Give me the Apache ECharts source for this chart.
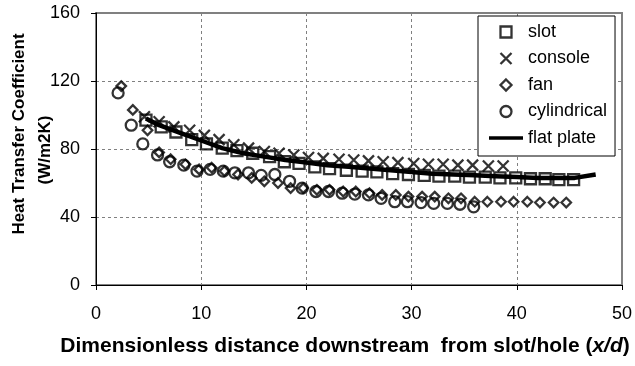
<!DOCTYPE html>
<html>
<head>
<meta charset="utf-8">
<script src="https://cdn.jsdelivr.net/npm/echarts@6/dist/echarts.min.js"></script>
<style>
  html, body { margin: 0; padding: 0; background: #fff; }
  #chart { width: 635px; height: 366px; }
</style>
</head>
<body>
<div id="chart"></div>
<script>
// Heat transfer coefficient vs. dimensionless downstream distance x/d
const xTicks = [0, 10, 20, 30, 40, 50];
const yTicks = [0, 40, 80, 120, 160];

const slotX = [4.75, 6.2, 7.6, 9.1, 10.5, 12.0, 13.4, 14.9, 16.5, 17.9, 19.3, 20.8, 22.2, 23.8, 25.3, 26.7, 28.2, 29.7, 31.2, 32.6, 34.1, 35.5, 37.0, 38.4, 39.9, 41.3, 42.7, 44.0, 45.4];
const slotY = [97, 93, 90, 85.5, 83, 80.5, 79, 77.5, 75.5, 72.5, 71.5, 69.5, 68.5, 67.5, 67, 66.5, 65.5, 65, 64.5, 64, 64, 63.5, 63.5, 63, 63, 62.5, 62.5, 62, 62];

const consoleX = [4.6, 6.0, 7.4, 8.9, 10.3, 11.7, 13.1, 14.5, 16.0, 17.4, 18.8, 20.2, 21.6, 23.1, 24.5, 25.9, 27.3, 28.7, 30.2, 31.6, 33.0, 34.4, 35.8, 37.3, 38.7];
const consoleY = [99, 96, 93, 91, 88, 85.5, 82.5, 80.5, 78.5, 77.5, 76.5, 75, 74.5, 74, 73.5, 73, 72.5, 72, 71.5, 71, 71, 70.5, 70.5, 70, 70];

const fanX = [2.4, 3.5, 4.9, 6.0, 7.1, 8.5, 9.8, 11.0, 12.2, 13.5, 14.8, 16.0, 17.3, 18.5, 19.7, 21.0, 22.2, 23.5, 24.7, 26.0, 27.2, 28.5, 29.7, 31.0, 32.2, 33.5, 34.7, 36.0, 37.2, 38.5, 39.7, 41.0, 42.2, 43.5, 44.7];
const fanY = [117, 103, 91, 78, 74, 71, 68, 69, 67, 65, 63, 61, 60, 57, 57, 56, 56, 55, 55, 54, 53, 53, 52, 52, 52, 51, 51, 49, 49, 49, 49, 49, 48.5, 48.5, 48.5];

const cylX = [2.1, 3.35, 4.45, 5.85, 7.0, 8.35, 9.6, 10.85, 12.1, 13.2, 14.5, 15.7, 17.0, 18.4, 19.6, 20.9, 22.1, 23.4, 24.6, 25.9, 27.1, 28.4, 29.6, 30.9, 32.1, 33.4, 34.6, 35.9];
const cylY = [113, 94, 83, 76.5, 72.5, 70.5, 67, 68, 67, 66, 66, 64.5, 65, 61, 57, 55, 55, 54, 53.5, 53, 51, 49, 49, 48.5, 48, 48, 47.5, 46];

const plateX = [4.75, 6, 8, 10, 12, 14, 16, 18, 20, 22, 24, 26, 28, 30, 32, 34, 36, 38, 40, 42, 44, 45.5, 47.5];
const plateY = [98, 94, 89.5, 85, 80.5, 77.5, 75.5, 73.5, 72, 70.5, 69.5, 68.5, 67.5, 66.5, 65.5, 65, 64.5, 64, 63.5, 63, 63, 63, 65];

const pairs = (xs, ys) => xs.map((x, i) => [x, ys[i]]);

const FONT = '"Liberation Sans", Arial, sans-serif';
const STROKE = 2.3;
const hollow = { color: 'rgba(0,0,0,0)', borderColor: '#000', borderWidth: STROKE };

// marker outlines as paths so they keep their aspect ratio in the legend
const squarePath = 'path://M0,0L10,0L10,10L0,10Z';
const crossPath = 'path://M0,0L10,10M10,0L0,10';
const diamondPath = 'path://M5,0L10,5L5,10L0,5Z';
const barPath = 'path://M0,0L40,0L40,4L0,4Z';

const chart = echarts.init(document.getElementById('chart'), null, { renderer: 'canvas' });

chart.setOption({
  animation: false,
  backgroundColor: '#fff',
  textStyle: { fontFamily: FONT },
  grid: {
    left: 96, right: 8, top: 13, bottom: 81,
    show: true, borderColor: '#808080', borderWidth: 2, backgroundColor: 'transparent'
  },
  xAxis: {
    type: 'value', min: xTicks[0], max: xTicks[xTicks.length - 1], interval: 10,
    axisLine: { show: true, onZero: false, lineStyle: { color: '#000', width: 1 } },
    axisTick: { show: true, length: 5, lineStyle: { color: '#000' } },
    axisLabel: { color: '#000', fontSize: 18, fontFamily: FONT, margin: 20 },
    splitLine: { show: true, lineStyle: { color: '#808080', type: [3, 3], width: 1 } }
  },
  yAxis: {
    type: 'value', min: yTicks[0], max: yTicks[yTicks.length - 1], interval: 40,
    axisLine: { show: true, onZero: false, lineStyle: { color: '#000', width: 1 } },
    axisTick: { show: true, length: 5, lineStyle: { color: '#000' } },
    axisLabel: { color: '#000', fontSize: 18, fontFamily: FONT, margin: 16 },
    splitLine: { show: true, lineStyle: { color: '#808080', type: [3, 3], width: 1 } }
  },
  legend: {
    orient: 'vertical', left: 478, top: 16,
    padding: [7, 8, 9, 11],
    itemWidth: 34, itemHeight: 11, itemGap: 8.5,
    backgroundColor: '#fff', borderColor: '#000', borderWidth: 1, borderRadius: 0,
    textStyle: { color: '#000', fontSize: 18, fontFamily: FONT },
    data: [
      { name: 'slot', icon: squarePath, itemStyle: hollow },
      { name: 'console', icon: crossPath, itemStyle: hollow },
      { name: 'fan', icon: diamondPath, itemStyle: hollow },
      { name: 'cylindrical', icon: 'circle', itemStyle: hollow },
      { name: 'flat plate', icon: barPath, itemStyle: { color: '#000', borderWidth: 0 } }
    ]
  },
  graphic: [
    {
      type: 'text', rotation: Math.PI / 2, x: 19, y: 134,
      style: { text: 'Heat Transfer Coefficient', font: 'bold 17px ' + FONT, fill: '#000', align: 'center', verticalAlign: 'middle' }
    },
    {
      type: 'text', rotation: Math.PI / 2, x: 45, y: 150,
      style: { text: '(W/m2K)', font: 'bold 17px ' + FONT, fill: '#000', align: 'center', verticalAlign: 'middle' }
    },
    {
      type: 'text', x: 345, y: 346,
      style: {
        text: '{b|Dimensionless distance downstream  from slot/hole (}{bi|x/d}{b|)}',
        align: 'center', verticalAlign: 'middle',
        rich: {
          b: { font: 'bold 21px ' + FONT, fill: '#000' },
          bi: { font: 'italic bold 21px ' + FONT, fill: '#000' }
        }
      }
    }
  ],
  series: [
    {
      name: 'flat plate', type: 'line', data: pairs(plateX, plateY),
      symbol: 'none', smooth: false, z: 3,
      lineStyle: { color: '#000', width: 4.5 }, itemStyle: { color: '#000' }
    },
    {
      name: 'slot', type: 'scatter', data: pairs(slotX, slotY),
      symbol: squarePath, symbolSize: 11, itemStyle: hollow, z: 4
    },
    {
      name: 'console', type: 'scatter', data: pairs(consoleX, consoleY),
      symbol: crossPath, symbolSize: 11, itemStyle: hollow, z: 4
    },
    {
      name: 'fan', type: 'scatter', data: pairs(fanX, fanY),
      symbol: diamondPath, symbolSize: 9.5, itemStyle: hollow, z: 4
    },
    {
      name: 'cylindrical', type: 'scatter', data: pairs(cylX, cylY),
      symbol: 'circle', symbolSize: 11, itemStyle: hollow, z: 4
    }
  ]
});
</script>
</body>
</html>
